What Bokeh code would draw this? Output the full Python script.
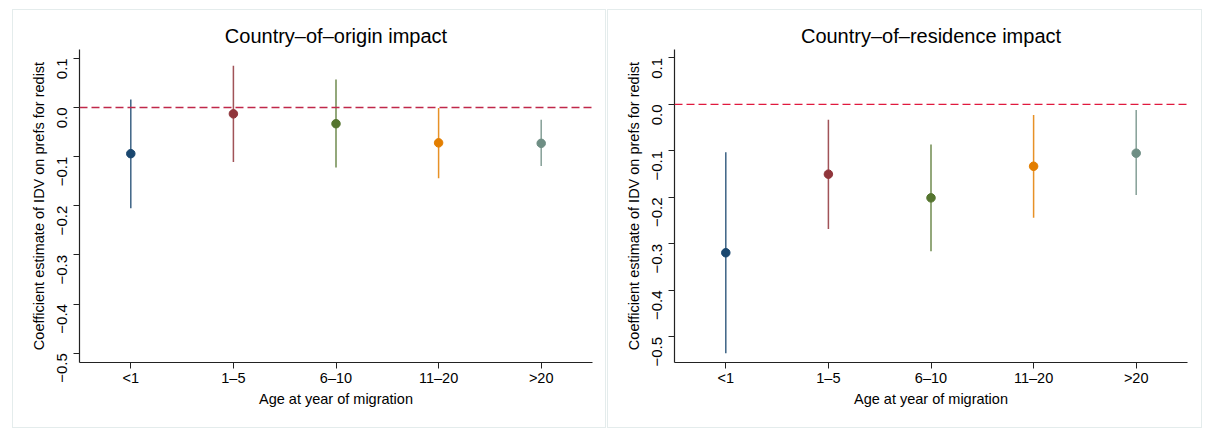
from bokeh.plotting import figure
from bokeh.layouts import row
from bokeh.models import ColumnDataSource, FixedTicker, Span, InlineStyleSheet
from bokeh.embed import file_html
from bokeh.resources import INLINE

categories = ["<1", "1–5", "6–10", "11–20", ">20"]
positions = [1, 2, 3, 4, 5]
colors = ["#1a476f", "#90353b", "#55752f", "#e37e00", "#6e8e84"]

origin_est = [-0.094, -0.013, -0.033, -0.072, -0.073]
origin_lo = [-0.205, -0.111, -0.122, -0.144, -0.119]
origin_hi = [0.016, 0.085, 0.057, -0.001, -0.025]

resid_est = [-0.319, -0.150, -0.201, -0.133, -0.105]
resid_lo = [-0.535, -0.268, -0.316, -0.244, -0.195]
resid_hi = [-0.103, -0.033, -0.086, -0.023, -0.012]

y_ticks = [-0.5, -0.4, -0.3, -0.2, -0.1, 0.0, 0.1]
y_tick_labels = ["−0.5", "−0.4", "−0.3", "−0.2", "−0.1", "0.0", "0.1"]

FONT = "Liberation Sans"


def panel(title, est, lo, hi, y_range, border_left, border_right, dash_color, box_css):
    p = figure(width=606, height=434, x_range=(0.5, 5.5), y_range=y_range,
               output_backend="svg", toolbar_location=None, title=title,
               min_border_left=border_left, min_border_right=border_right,
               min_border_top=49, min_border_bottom=72)
    p.stylesheets = [InlineStyleSheet(css=box_css)]
    p.outline_line_color = None
    p.xgrid.visible = False
    p.ygrid.visible = False
    p.background_fill_color = "white"
    p.border_fill_color = "white"

    p.title.text_font = FONT
    p.title.text_font_size = "20px"
    p.title.text_font_style = "normal"
    p.title.align = "center"
    p.title.text_color = "black"
    p.title.standoff = 6

    src = ColumnDataSource(dict(x=positions, est=est, lo=lo, hi=hi, color=colors))
    zero = Span(location=0, dimension="width", line_color=dash_color,
                line_dash="8 4", line_width=1.3)
    p.add_layout(zero)
    p.segment(x0="x", y0="lo", x1="x", y1="hi", source=src, line_color="color",
              line_width=1.5, line_alpha=0.85)
    p.scatter(x="x", y="est", source=src, size=8.5, fill_color="color",
              line_color="color")

    for ax in (p.xaxis, p.yaxis):
        ax.axis_line_color = "#222222"
        ax.axis_line_width = 1.2
        ax.major_tick_line_color = "#222222"
        ax.major_tick_in = 0
        ax.major_tick_out = 6
        ax.minor_tick_line_color = None
        ax.major_label_text_font = FONT
        ax.major_label_text_font_size = "14.5px"
        ax.major_label_text_color = "black"
        ax.axis_label_text_font = FONT
        ax.axis_label_text_font_size = "14.5px"
        ax.axis_label_text_font_style = "normal"
        ax.axis_label_text_color = "black"

    p.xaxis.ticker = FixedTicker(ticks=positions)
    p.xaxis.major_label_overrides = {pos: lab for pos, lab in zip(positions, categories)}
    p.xaxis.axis_label = "Age at year of migration"
    p.xaxis.major_label_standoff = 1
    p.xaxis.axis_label_standoff = 2

    p.yaxis.ticker = FixedTicker(ticks=y_ticks)
    p.yaxis.major_label_overrides = {t: lab for t, lab in zip(y_ticks, y_tick_labels)}
    p.yaxis.major_label_orientation = 1.5708
    p.yaxis.major_label_text_font_size = "15px"
    p.yaxis.axis_label = "Coefficient estimate of IDV on prefs for redist"
    p.yaxis.major_label_standoff = 11
    p.yaxis.axis_label_standoff = 3
    return p


left_css = (":host { position: relative; }"
            ":host::after { content: ''; position: absolute; left: 12px; top: 9px;"
            " width: 594px; height: 419px; border: 1px solid #e4ecec;"
            " box-sizing: border-box; pointer-events: none; }")
right_css = (":host { position: relative; }"
             ":host::after { content: ''; position: absolute; left: 1px; top: 9px;"
             " width: 595px; height: 419px; border: 1px solid #e4ecec;"
             " box-sizing: border-box; pointer-events: none; }")

p1 = panel("Country–of–origin impact", origin_est, origin_lo, origin_hi,
           (-0.519, 0.118), 79, 14, "#c0284a", left_css)
p2 = panel("Country–of–residence impact", resid_est, resid_lo, resid_hi,
           (-0.555, 0.118), 68, 25, "#e0193e", right_css)

layout = row(p1, p2)
open("out.html", "w").write(file_html(layout, INLINE))
